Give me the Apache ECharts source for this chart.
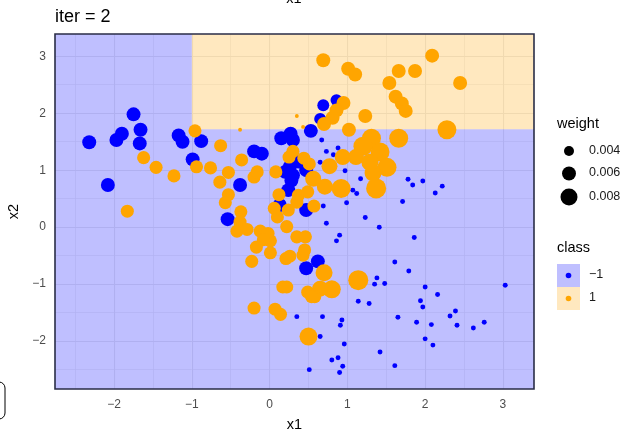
<!DOCTYPE html>
<html>
<head>
<meta charset="utf-8">
<script src="https://cdn.jsdelivr.net/npm/echarts@6/dist/echarts.min.js"></script>
<style>
  html, body { margin: 0; padding: 0; background: #fff; }
  #chart { width: 630px; height: 432px; }
</style>
</head>
<body>
<div id="chart"></div>
<script>
// ---- data ----
var xTicks = [-2, -1, 0, 1, 2, 3];
var yTicks = [-2, -1, 0, 1, 2, 3];
var xMinor = [-2.5, -1.5, -0.5, 0.5, 1.5, 2.5];
var yMinor = [-2.5, -1.5, -0.5, 0.5, 1.5, 2.5];
var xRange = [-2.76, 3.40];
var yRange = [-2.84, 3.39];
// decision region of the stump: class 1 where x1 > -1 and x2 > 1.72
var splitX = -1;
var splitY = 1.72;
var legendWeights = [0.004, 0.006, 0.008];
var classLabels = ['\u22121', '1'];

// [x1, x2, weight]  class -1
var bluePoints = [
	[-1.75, 1.98, 0.0060], [-1.90, 1.64, 0.0060], [-1.97, 1.53, 0.0060], [-1.66, 1.71, 0.0060],
	[-1.67, 1.47, 0.0060], [-2.32, 1.49, 0.0060], [-1.17, 1.61, 0.0060], [-1.12, 1.50, 0.0060],
	[-0.88, 1.51, 0.0060], [-0.99, 1.19, 0.0060], [-2.08, 0.74, 0.0060], [-0.38, 0.74, 0.0060],
	[-0.20, 1.33, 0.0060], [-0.10, 1.29, 0.0060], [0.15, 1.56, 0.0060], [0.27, 1.64, 0.0060],
	[0.30, 1.53, 0.0060], [0.37, 1.15, 0.0060], [0.26, 1.06, 0.0060], [0.30, 0.91, 0.0060],
	[0.20, 0.97, 0.0060], [0.28, 0.82, 0.0060], [0.24, 0.65, 0.0060], [0.13, 0.39, 0.0060],
	[0.47, 0.30, 0.0060], [-0.54, 0.14, 0.0060], [0.47, -0.72, 0.0060], [0.62, -0.60, 0.0060],
	[0.69, 2.14, 0.0049], [0.86, 2.23, 0.0049], [0.65, 1.90, 0.0049], [0.53, 1.69, 0.0060],
	[0.47, 1.00, 0.0060],
	[0.67, 1.53, 0.0024], [0.73, 1.33, 0.0024], [0.88, 1.39, 0.0024], [0.82, 1.27, 0.0024],
	[0.65, 1.14, 0.0024], [0.97, 0.99, 0.0024], [1.17, 0.85, 0.0024], [1.07, 0.65, 0.0024],
	[1.12, 0.59, 0.0024], [0.69, 0.37, 0.0024], [0.99, 0.43, 0.0024], [1.71, 0.45, 0.0024],
	[1.78, 0.84, 0.0024], [1.84, 0.74, 0.0024], [1.97, 0.81, 0.0024], [2.13, 0.60, 0.0024],
	[2.22, 0.72, 0.0024], [1.23, 0.17, 0.0024], [1.41, 0.00, 0.0024], [0.73, 0.07, 0.0024],
	[0.90, -0.14, 0.0024], [0.86, -0.24, 0.0024], [1.86, -0.18, 0.0024], [1.61, -0.61, 0.0024],
	[1.79, -0.77, 0.0024], [1.38, -0.89, 0.0024], [1.35, -1.00, 0.0024], [1.48, -0.99, 0.0024],
	[2.00, -1.05, 0.0024], [2.16, -1.18, 0.0024], [3.03, -1.02, 0.0024], [1.14, -1.30, 0.0024],
	[1.28, -1.34, 0.0024], [1.94, -1.29, 0.0024], [1.97, -1.40, 0.0024], [2.39, -1.47, 0.0024],
	[2.32, -1.56, 0.0024], [0.35, -1.57, 0.0024], [0.68, -1.57, 0.0024], [0.93, -1.63, 0.0024],
	[0.91, -1.72, 0.0024], [1.65, -1.58, 0.0024], [1.89, -1.67, 0.0024], [2.08, -1.71, 0.0024],
	[2.41, -1.72, 0.0024], [2.62, -1.77, 0.0024], [2.76, -1.67, 0.0024], [0.65, -1.92, 0.0024],
	[0.96, -2.05, 0.0024], [2.00, -1.96, 0.0024], [2.10, -2.07, 0.0024], [1.42, -2.19, 0.0024],
	[0.80, -2.33, 0.0024], [0.88, -2.29, 0.0024], [0.94, -2.44, 0.0024], [0.90, -2.55, 0.0024],
	[1.61, -2.43, 0.0024], [0.51, -2.50, 0.0024]
];

// [x1, x2, weight]  class 1
var orangePoints = [
	[-0.96, 1.69, 0.0055], [-0.38, 1.71, 0.0022], [-0.63, 1.43, 0.0055], [-1.62, 1.22, 0.0055],
	[-1.46, 1.05, 0.0055], [-1.23, 0.90, 0.0055], [-0.94, 1.06, 0.0055], [-0.76, 1.04, 0.0055],
	[-0.36, 1.18, 0.0055], [-0.53, 0.96, 0.0055], [-0.64, 0.79, 0.0055], [-0.20, 0.88, 0.0055],
	[-0.16, 0.97, 0.0055], [0.08, 0.97, 0.0055], [-0.53, 0.57, 0.0055], [-0.57, 0.43, 0.0055],
	[0.12, 0.57, 0.0055], [-1.83, 0.28, 0.0055], [-0.37, 0.27, 0.0055], [0.06, 0.33, 0.0055],
	[0.10, 0.18, 0.0055], [-0.38, 0.09, 0.0055], [-0.42, -0.07, 0.0055], [-0.29, -0.04, 0.0055],
	[-0.12, -0.07, 0.0055], [-0.02, -0.11, 0.0055], [0.01, -0.24, 0.0055], [-0.08, -0.22, 0.0055],
	[-0.17, -0.35, 0.0055], [-0.23, -0.60, 0.0055], [0.01, -0.45, 0.0055], [0.22, 0.01, 0.0055],
	[0.24, 0.30, 0.0055], [0.21, -0.55, 0.0055], [0.26, -0.51, 0.0055], [0.17, -1.05, 0.0055],
	[0.22, -1.05, 0.0055], [-0.20, -1.42, 0.0055], [0.07, -1.44, 0.0055], [0.14, -1.53, 0.0055],
	[0.43, -0.49, 0.0055], [0.70, -0.80, 0.0080], [1.14, -0.93, 0.0104], [0.80, -1.09, 0.0087],
	[0.65, -1.08, 0.0073], [0.49, -1.14, 0.0055], [0.58, -1.22, 0.0055], [0.54, -1.22, 0.0055],
	[0.50, -1.92, 0.0087], [0.35, -0.17, 0.0055], [0.46, -0.17, 0.0055], [0.45, -0.40, 0.0055],
	[0.37, 0.56, 0.0055], [0.35, 0.44, 0.0055], [0.49, 0.62, 0.0055], [0.57, 0.37, 0.0055],
	[0.56, 0.85, 0.0073], [0.71, 0.71, 0.0073], [0.92, 0.68, 0.0095], [1.37, 0.68, 0.0104],
	[0.51, 1.11, 0.0055], [0.44, 1.21, 0.0055], [0.30, 1.33, 0.0055], [0.25, 1.23, 0.0055],
	[0.35, 1.95, 0.0022], [0.43, 1.76, 0.0022],
	[0.69, 2.93, 0.0060], [1.01, 2.78, 0.0060], [1.10, 2.68, 0.0060], [2.09, 3.01, 0.0060],
	[1.66, 2.74, 0.0060], [1.87, 2.74, 0.0060], [1.54, 2.53, 0.0060], [2.45, 2.53, 0.0060],
	[1.62, 2.29, 0.0060], [1.70, 2.17, 0.0060], [1.75, 2.04, 0.0060], [0.95, 2.18, 0.0060],
	[0.86, 2.05, 0.0060], [0.81, 1.92, 0.0060], [0.70, 1.81, 0.0060], [1.23, 1.95, 0.0060],
	[1.02, 1.71, 0.0060], [2.28, 1.71, 0.0095], [1.66, 1.56, 0.0095], [1.31, 1.56, 0.0095],
	[1.20, 1.42, 0.0095], [1.42, 1.32, 0.0095], [1.11, 1.23, 0.0073], [0.94, 1.23, 0.0073],
	[0.77, 1.07, 0.0073], [1.51, 1.05, 0.0095], [1.33, 0.95, 0.0080], [1.29, 1.14, 0.0080]
];

// ---- layout / style ----
var FONT = 'Liberation Sans, Arial, sans-serif';
var gridBox = { left: 55, top: 34, width: 479, height: 355 };
var blueFill = 'rgba(0,0,255,0.25)';
var orangeFill = 'rgba(255,165,0,0.25)';

// area-scaled point size (diameter in px) from weight
function dotSize(w) {
	return 217.4 * Math.sqrt(Math.max(w - 0.001884, 0));
}
function fmt(v) {
	return String(v).replace('-', '\u2212');
}

var gridLines = [];
xTicks.forEach(function(v) { gridLines.push({ xAxis: v, lineStyle: { width: 1.1 } }); });
yTicks.forEach(function(v) { gridLines.push({ yAxis: v, lineStyle: { width: 1.1 } }); });
xMinor.forEach(function(v) { gridLines.push({ xAxis: v, lineStyle: { width: 0.6 } }); });
yMinor.forEach(function(v) { gridLines.push({ yAxis: v, lineStyle: { width: 0.6 } }); });

var regions = [
	[{ xAxis: xRange[0], yAxis: yRange[0], itemStyle: { color: blueFill } }, { xAxis: splitX, yAxis: yRange[1] }],
	[{ xAxis: splitX, yAxis: yRange[0], itemStyle: { color: blueFill } }, { xAxis: xRange[1], yAxis: splitY }],
	[{ xAxis: splitX, yAxis: splitY, itemStyle: { color: orangeFill } }, { xAxis: xRange[1], yAxis: yRange[1] }]
];

var chart = echarts.init(document.getElementById('chart'), null, { renderer: 'canvas' });

// legend drawn by hand (ggplot style)
var legendX = 557;
var legendItems = [
	{ type: 'text', left: legendX, top: 116, style: { text: 'weight', fontSize: 14.5, fontFamily: FONT, fill: '#000' } },
	{ type: 'text', left: legendX, top: 240, style: { text: 'class', fontSize: 14.5, fontFamily: FONT, fill: '#000' } }
];
var wY = [151, 173.5, 197];
legendWeights.forEach(function(w, i) {
	legendItems.push({ type: 'circle', shape: { cx: 569, cy: wY[i], r: dotSize(w) / 2 }, style: { fill: '#000' } });
	legendItems.push({ type: 'text', left: 589, top: wY[i] - 7, style: { text: String(w), fontSize: 12.5, fontFamily: FONT, fill: '#1a1a1a' } });
});
var classColors = ['#0000ff', '#ffa500'];
var classFills = ['#bfbfff', '#ffe8bf'];
classLabels.forEach(function(lab, i) {
	var y0 = 264 + i * 23;
	legendItems.push({ type: 'rect', shape: { x: 557, y: y0, width: 23, height: 23 }, style: { fill: classFills[i] } });
	legendItems.push({ type: 'circle', shape: { cx: 568.5, cy: y0 + 11.5, r: 2.8 }, style: { fill: classColors[i] } });
	legendItems.push({ type: 'text', left: 589, top: y0 + 4.5, style: { text: lab, fontSize: 12.5, fontFamily: FONT, fill: '#1a1a1a' } });
});

var option = {
	animation: false,
	textStyle: { fontFamily: FONT },
	title: {
		text: 'iter = 2',
		left: 55,
		top: 8,
		padding: 0,
		textStyle: { fontSize: 18, fontWeight: 'normal', color: '#000', fontFamily: FONT }
	},
	grid: {
		left: gridBox.left,
		top: gridBox.top,
		width: gridBox.width,
		height: gridBox.height,
		containLabel: false,
		outerBoundsMode: 'none'
	},
	xAxis: {
		type: 'value',
		min: xRange[0],
		max: xRange[1],
		name: 'x1',
		nameLocation: 'middle',
		nameGap: 28,
		nameTextStyle: { fontSize: 14.5, color: '#000', fontFamily: FONT },
		axisLine: { show: false },
		splitLine: { show: false },
		axisTick: { show: true, customValues: xTicks, length: 4, lineStyle: { color: '#333' } },
		axisLabel: { customValues: xTicks, formatter: fmt, fontSize: 12, color: '#4d4d4d', margin: 10 }
	},
	yAxis: {
		type: 'value',
		min: yRange[0],
		max: yRange[1],
		name: 'x2',
		nameLocation: 'middle',
		nameGap: 27,
		nameRotate: 90,
		nameTextStyle: { fontSize: 14.5, color: '#000', fontFamily: FONT },
		axisLine: { show: false },
		splitLine: { show: false },
		axisTick: { show: true, customValues: yTicks, length: 4, lineStyle: { color: '#333' } },
		axisLabel: { customValues: yTicks, formatter: fmt, fontSize: 12, color: '#4d4d4d', margin: 9 }
	},
	series: [{
			// panel grid + decision regions
			name: 'background',
			type: 'scatter',
			data: [],
			silent: true,
			markLine: {
				z: 1,
				silent: true,
				symbol: ['none', 'none'],
				label: { show: false },
				lineStyle: { color: '#ebebeb', type: 'solid' },
				data: gridLines
			},
			markArea: {
				z: 2,
				silent: true,
				data: regions
			}
		},
		{
			name: '-1',
			type: 'scatter',
			z: 3,
			data: bluePoints,
			symbolSize: function(v) { return dotSize(v[2]); },
			itemStyle: { color: '#0000ff', opacity: 1 }
		},
		{
			name: '1',
			type: 'scatter',
			z: 4,
			data: orangePoints,
			symbolSize: function(v) { return dotSize(v[2]); },
			itemStyle: { color: '#ffa500', opacity: 1 }
		}
	],
	graphic: [
		// panel border on top
		{ type: 'rect', z: 100, shape: { x: gridBox.left, y: gridBox.top, width: gridBox.width, height: gridBox.height },
			style: { fill: 'none', stroke: '#2a2d47', lineWidth: 1.6 } },
		// strip of the panel above (cut off)
		{ type: 'text', z: 100, x: 294, y: 6, style: { text: 'x1', fontSize: 14.5, fontFamily: FONT, fill: '#000', align: 'center', verticalAlign: 'bottom' } },
		// cut-off box at the lower left
		{ type: 'rect', z: 100, shape: { x: -30, y: 382, width: 35, height: 37, r: 6 },
			style: { fill: 'none', stroke: '#000', lineWidth: 1 } }
	].concat(legendItems)
};
chart.setOption(option);
</script>
</body>
</html>
